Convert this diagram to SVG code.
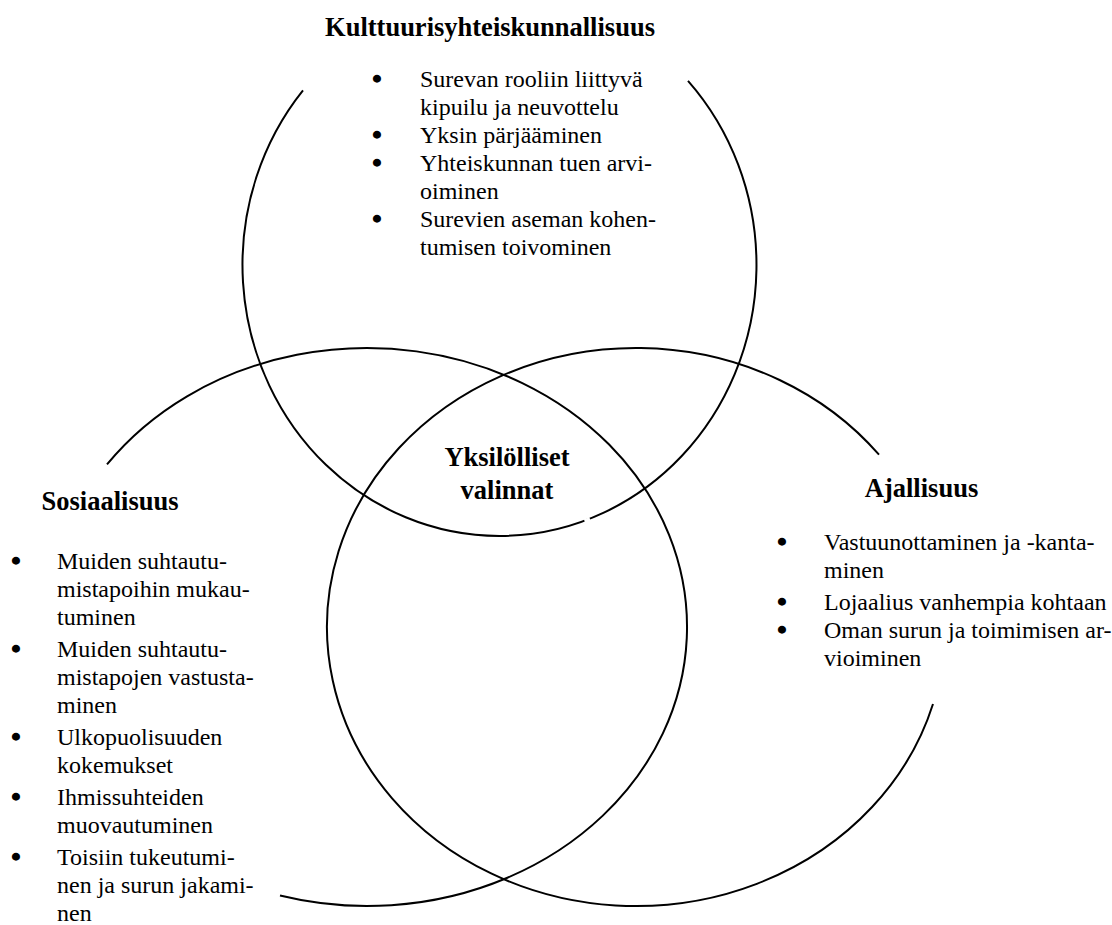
<svg xmlns="http://www.w3.org/2000/svg" width="1112" height="925" viewBox="0 0 1112 925">
  <style>
    .ring { fill: none; stroke: #000; stroke-width: 2; }
    .head { font-family: "Liberation Serif", "Times New Roman", serif; font-size: 26.5px; font-weight: bold; fill: #000; }
    .item { font-family: "Liberation Serif", "Times New Roman", serif; font-size: 24px; fill: #000; }
    .bul { font-family: "Liberation Serif", "Times New Roman", serif; font-size: 24px; fill: #000; stroke: #000; stroke-width: 2.4; stroke-linejoin: round; text-anchor: middle; }
  </style>
  <rect width="1112" height="925" fill="#fff"/>

  <g id="kulttuurisyhteiskunnallisuus">
    <path class="ring" d="M 303 90.3 A 257 271 0 1 0 688 80.8"/>
    <line x1="584.5" y1="521" x2="590" y2="519" stroke="#fff" stroke-width="3.5"/>
    <text class="head" x="490" y="36" text-anchor="middle">Kulttuurisyhteiskunnallisuus</text>
    <text class="bul" x="377" y="87">•</text>
    <text class="item" x="420" y="87">Surevan rooliin liittyvä</text>
    <text class="item" x="420" y="115">kipuilu ja neuvottelu</text>
    <text class="bul" x="377" y="143">•</text>
    <text class="item" x="420" y="143">Yksin pärjääminen</text>
    <text class="bul" x="377" y="171">•</text>
    <text class="item" x="420" y="171">Yhteiskunnan tuen arvi-</text>
    <text class="item" x="420" y="199">oiminen</text>
    <text class="bul" x="377" y="227">•</text>
    <text class="item" x="420" y="227">Surevien aseman kohen-</text>
    <text class="item" x="420" y="255">tumisen toivominen</text>
  </g>

  <g id="sosiaalisuus">
    <path class="ring" d="M 107 464.4 A 320 279 0 1 1 280 895.5"/>
    <text class="head" x="110" y="510" text-anchor="middle">Sosiaalisuus</text>
    <text class="bul" x="16" y="569">•</text>
    <text class="item" x="57" y="569">Muiden suhtautu-</text>
    <text class="item" x="57" y="597">mistapoihin mukau-</text>
    <text class="item" x="57" y="625">tuminen</text>
    <text class="bul" x="16" y="657">•</text>
    <text class="item" x="57" y="657">Muiden suhtautu-</text>
    <text class="item" x="57" y="685">mistapojen vastusta-</text>
    <text class="item" x="57" y="713">minen</text>
    <text class="bul" x="16" y="745">•</text>
    <text class="item" x="57" y="745">Ulkopuolisuuden</text>
    <text class="item" x="57" y="773">kokemukset</text>
    <text class="bul" x="16" y="805">•</text>
    <text class="item" x="57" y="805">Ihmissuhteiden</text>
    <text class="item" x="57" y="833">muovautuminen</text>
    <text class="bul" x="16" y="865">•</text>
    <text class="item" x="57" y="865">Toisiin tukeutumi-</text>
    <text class="item" x="57" y="893">nen ja surun jakami-</text>
    <text class="item" x="57" y="921">nen</text>
  </g>

  <g id="ajallisuus">
    <path class="ring" d="M 879 454.7 A 309 279 0 1 0 933 704"/>
    <text class="head" x="921.5" y="497" text-anchor="middle">Ajallisuus</text>
    <text class="bul" x="782" y="550">•</text>
    <text class="item" x="824" y="550">Vastuunottaminen ja -kanta-</text>
    <text class="item" x="824" y="578">minen</text>
    <text class="bul" x="782" y="610">•</text>
    <text class="item" x="824" y="610">Lojaalius vanhempia kohtaan</text>
    <text class="bul" x="782" y="638">•</text>
    <text class="item" x="824" y="638">Oman surun ja toimimisen ar-</text>
    <text class="item" x="824" y="666">vioiminen</text>
  </g>

  <g id="yksilolliset-valinnat">
    <text class="head" x="507" y="466" text-anchor="middle">Yksilölliset</text>
    <text class="head" x="507" y="499" text-anchor="middle">valinnat</text>
  </g>

  <g id="connectors"/>
</svg>
